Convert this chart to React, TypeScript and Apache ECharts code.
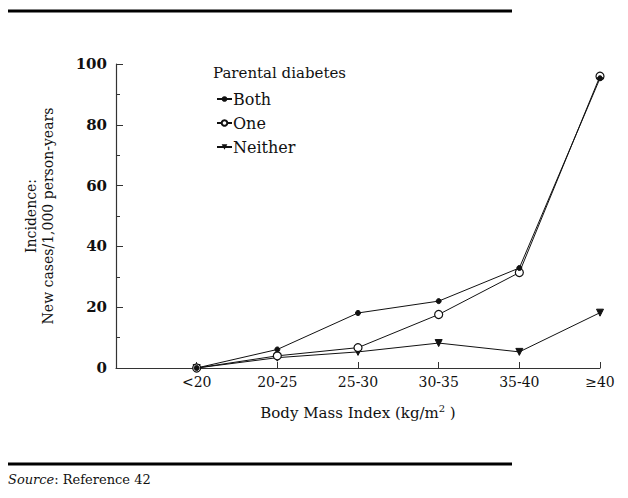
import React, { useEffect, useRef } from "react";
import * as echarts from "echarts";

const categories = ["<20", "20-25", "25-30", "30-35", "35-40", "≥40"];
const bothValues = [0, 6.1, 18.1, 22.0, 32.9, 95.3];
const oneValues = [0, 4.0, 6.7, 17.6, 31.4, 96.0];
const neitherValues = [0, 3.4, 5.3, 8.2, 5.3, 18.2];
const yTicks = { min: 0, max: 100, interval: 20 };

const SERIF = "'DejaVu Serif', 'Liberation Serif', serif";

const toPairs = (vals: number[]) => vals.map((v, i) => [i, v]);

export default function App() {
  const ref = useRef<HTMLDivElement>(null);
  useEffect(() => {
    document.body.style.margin = "0";
    const chart = echarts.init(ref.current!, null, { renderer: "svg" });
    const lineBase = {
      type: "line" as const,
      lineStyle: { color: "#111", width: 1 },
      itemStyle: { color: "#111", borderColor: "#111" },
      emphasis: { disabled: true },
    };
    chart.setOption({
      animation: false,
      backgroundColor: "#fff",
      textStyle: { fontFamily: SERIF },
      grid: { left: 116, right: 28, top: 64, bottom: 130, containLabel: false },
      xAxis: {
        type: "value",
        min: -1,
        max: 5,
        interval: 1,
        name: "Body Mass Index (kg/m{sup|2} )",
        nameLocation: "middle",
        nameGap: 35,
        nameTextStyle: {
          fontFamily: SERIF,
          fontSize: 15,
          color: "#111",
          rich: { sup: { fontSize: 10, verticalAlign: "top", padding: [0, 0, 10, 0], fontFamily: SERIF, color: "#111" } },
        },
        axisLine: { onZero: false, lineStyle: { color: "#333", width: 1.2 } },
        axisTick: { inside: true, length: 6, lineStyle: { color: "#333" } },
        splitLine: { show: false },
        axisLabel: {
          fontFamily: SERIF,
          fontSize: 14,
          color: "#111",
          margin: 7,
          formatter: (v: number) => (v >= 0 && v < categories.length ? categories[v] : ""),
        },
      },
      yAxis: {
        type: "value",
        min: yTicks.min,
        max: yTicks.max,
        interval: yTicks.interval,
        name: "Incidence:\nNew cases/1,000 person-years",
        nameLocation: "middle",
        nameGap: 60,
        nameTextStyle: { fontFamily: SERIF, fontSize: 14, color: "#111", lineHeight: 17 },
        axisLine: { show: true, onZero: false, lineStyle: { color: "#333", width: 1.2 } },
        axisTick: { inside: true, length: 7, lineStyle: { color: "#333" } },
        minorTick: { show: true, splitNumber: 2, length: 4, lineStyle: { color: "#333" } },
        splitLine: { show: false },
        axisLabel: { fontFamily: SERIF, fontSize: 15, fontWeight: "bold", color: "#111", margin: 9 },
      },
      legend: {
        orient: "vertical",
        left: 211,
        top: 86,
        itemGap: 8,
        itemWidth: 15,
        itemHeight: 7,
        textStyle: { fontFamily: SERIF, fontSize: 16, color: "#111", padding: [0, 0, 0, -4] },
        data: ["Both", "One", "Neither"],
      },
      graphic: [
        { type: "rect", shape: { x: 8, y: 9.5, width: 504, height: 3 }, style: { fill: "#000" } },
        { type: "rect", shape: { x: 8, y: 462.5, width: 504, height: 3 }, style: { fill: "#000" } },
        {
          type: "text",
          left: 213,
          top: 65,
          style: { text: "Parental diabetes", font: `15px ${SERIF}`, fill: "#111" },
        },
        {
          type: "text",
          left: 8,
          top: 473,
          style: {
            text: "{i|Source}: Reference 42",
            font: `13px ${SERIF}`,
            fill: "#111",
            rich: { i: { fontStyle: "italic", fontFamily: SERIF, fontSize: 13 } },
          },
        },
      ],
      series: [
        {
          ...lineBase,
          name: "Neither",
          data: toPairs(neitherValues),
          symbol: "triangle",
          symbolRotate: 180,
          symbolSize: 7,
        },
        {
          ...lineBase,
          name: "One",
          data: toPairs(oneValues),
          symbol: "circle",
          symbolSize: 8,
          itemStyle: { color: "#fff", borderColor: "#111", borderWidth: 1.2 },
        },
        {
          ...lineBase,
          name: "Both",
          data: toPairs(bothValues),
          symbol: "circle",
          symbolSize: 5,
        },
      ],
    });
    return () => chart.dispose();
  }, []);
  return <div ref={ref} style={{ position: "fixed", left: 0, top: 0, width: 628, height: 498 }} />;
}
